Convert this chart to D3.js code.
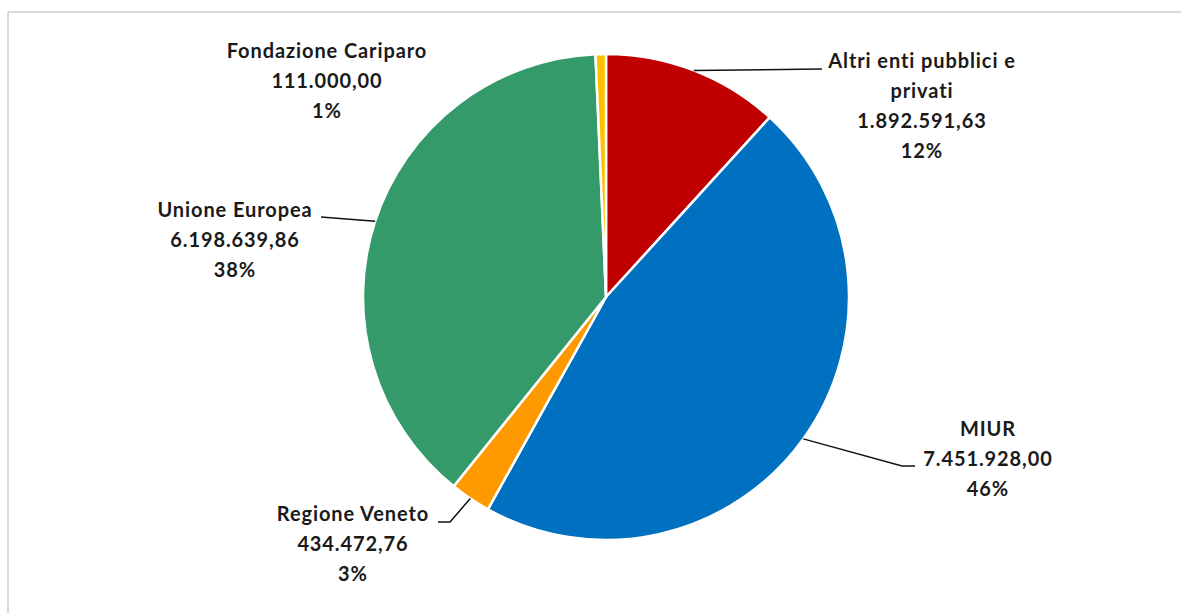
<!DOCTYPE html>
<html>
<head>
<meta charset="utf-8">
<script src="https://cdn.jsdelivr.net/npm/d3@7"></script>
<style>
  html, body { margin: 0; padding: 0; background: #fff; }
  svg { display: block; }
  text { font-family: Lato, "Open Sans", sans-serif; font-weight: bold; fill: #1a1a1a; letter-spacing: 0.9px; }
</style>
</head>
<body>
<svg id="chart" width="1181" height="613"></svg>
<script>
// ---- data ----
const categories = ["Altri enti pubblici e privati", "MIUR", "Regione Veneto", "Unione Europea", "Fondazione Cariparo"];
const values = [1892591.63, 7451928.00, 434472.76, 6198639.86, 111000.00];
const valueLabels = ["1.892.591,63", "7.451.928,00", "434.472,76", "6.198.639,86", "111.000,00"];
const percentLabels = ["12%", "46%", "3%", "38%", "1%"];
const nameLines = [["Altri enti pubblici e", "privati"], ["MIUR"], ["Regione Veneto"], ["Unione Europea"], ["Fondazione Cariparo"]];
const colors = ["#C00000", "#0070C0", "#FF9900", "#359A6A", "#FFC000"];

// ---- layout ----
const W = 1181, H = 613;
const cx = 606, cy = 297, R = 243;
const fontSize = 20, lineH = 30;
// label block: center x, first baseline y, leader end points (bend, end)
const labelLayout = [
  { x: 922, y: 68, leader: [[822, 69]] },
  { x: 988, y: 436, leader: [[902, 466], [915, 466]] },
  { x: 353, y: 521, leader: [[450, 522], [438, 522]] },
  { x: 235, y: 217, leader: [[321, 217]] },
  { x: 327, y: 58, leader: null }
];

const svg = d3.select("#chart");

// frame (top and left edges)
svg.append("line").attr("x1", 8).attr("x2", W).attr("y1", 12).attr("y2", 12)
  .attr("stroke", "#d9d9d9").attr("stroke-width", 2);
svg.append("line").attr("x1", 8).attr("x2", 8).attr("y1", 12).attr("y2", H)
  .attr("stroke", "#d9d9d9").attr("stroke-width", 2);

const data = categories.map((c, i) => ({ name: c, value: values[i], i }));
const pie = d3.pie().sort(null).value(d => d.value).startAngle(0).endAngle(2 * Math.PI);
const arcs = pie(data);
const arc = d3.arc().innerRadius(0).outerRadius(R);

const g = svg.append("g").attr("transform", `translate(${cx},${cy})`);
g.selectAll("path.slice").data(arcs).enter().append("path")
  .attr("class", "slice")
  .attr("d", arc)
  .attr("fill", d => colors[d.data.i])
  .attr("stroke", "#fff")
  .attr("stroke-width", 2.5)
  .attr("stroke-linejoin", "round");

// leader lines
arcs.forEach(d => {
  const L = labelLayout[d.data.i];
  if (!L.leader) return;
  const a = (d.startAngle + d.endAngle) / 2;
  const start = [cx + R * Math.sin(a), cy - R * Math.cos(a)];
  const pts = [start].concat(L.leader);
  svg.append("path")
    .attr("d", d3.line()(pts))
    .attr("fill", "none")
    .attr("stroke", "#111")
    .attr("stroke-width", 1.5);
});

// labels
arcs.forEach(d => {
  const i = d.data.i;
  const L = labelLayout[i];
  const lines = nameLines[i].concat([valueLabels[i], percentLabels[i]]);
  const t = svg.append("text")
    .attr("text-anchor", "middle")
    .attr("font-size", fontSize);
  lines.forEach((ln, k) => {
    t.append("tspan").attr("x", L.x).attr("y", L.y + k * lineH).text(ln);
  });
});
</script>
</body>
</html>
